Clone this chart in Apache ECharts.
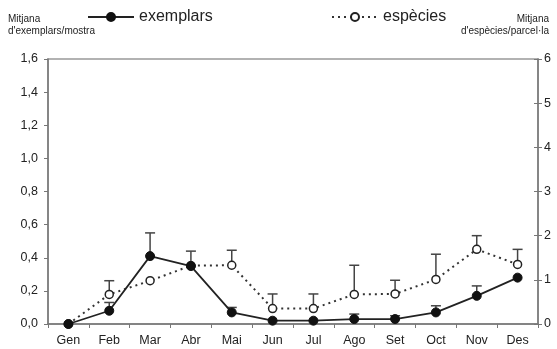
<!DOCTYPE html>
<html><head><meta charset="utf-8">
<script src="https://cdn.jsdelivr.net/npm/echarts@6/dist/echarts.min.js"></script>
<style>html,body{margin:0;padding:0;background:#fff}#c{width:557px;height:349px}</style>
</head><body><div id="c"></div>
<script>
const months = ['Gen','Feb','Mar','Abr','Mai','Jun','Jul','Ago','Set','Oct','Nov','Des'];
const exemplars = [0, 0.08, 0.41, 0.35, 0.07, 0.02, 0.02, 0.03, 0.03, 0.07, 0.17, 0.28];
const exemplarsErr = [null, 0.13, 0.55, null, 0.10, null, null, 0.06, 0.05, 0.11, 0.23, null];
const especies = [0, 0.67, 0.98, 1.32, 1.33, 0.35, 0.35, 0.67, 0.68, 1.01, 1.69, 1.35];
const especiesErr = [null, 0.98, null, 1.65, 1.67, 0.68, 0.68, 1.33, 0.99, 1.58, 2.0, 1.69];
const leftTicks = ['0,0','0,2','0,4','0,6','0,8','1,0','1,2','1,4','1,6'];

const font = 'Liberation Sans, Arial, sans-serif';
const ink = '#222';
const axisCol = '#777';

function errData(vals, tops) {
  const out = [];
  vals.forEach((v, i) => { if (tops[i] != null) out.push([i, v, tops[i]]); });
  return out;
}
function errRender(params, api) {
  const x = api.value(0);
  const p0 = api.coord([x, api.value(1)]);
  const p1 = api.coord([x, api.value(2)]);
  const half = 5;
  return {
    type: 'group',
    children: [
      {type: 'line', shape: {x1: p0[0], y1: p0[1], x2: p1[0], y2: p1[1]}, style: {stroke: '#444', lineWidth: 1.5}},
      {type: 'line', shape: {x1: p1[0] - half, y1: p1[1], x2: p1[0] + half, y2: p1[1]}, style: {stroke: '#444', lineWidth: 1.5}}
    ]
  };
}

const chart = echarts.init(document.getElementById('c'), null, {renderer: 'canvas'});
chart.setOption({
  animation: false,
  textStyle: {fontFamily: font},
  grid: {left: 48, right: 19, top: 59, bottom: 25, containLabel: false,
         show: true, borderColor: '#999', borderWidth: 1.5, backgroundColor: 'transparent'},
  legend: [
    {data: ['exemplars'], left: 82, top: 4, itemWidth: 46, itemHeight: 10,
     textStyle: {fontSize: 16, color: ink, fontFamily: font}},
    {data: ['espècies'], left: 326, top: 4, itemWidth: 46, itemHeight: 10,
     textStyle: {fontSize: 16, color: ink, fontFamily: font}}
  ],
  graphic: [
    {type: 'text', x: 8, y: 13, style: {text: 'Mitjana\nd\'exemplars/mostra', fontSize: 10, lineHeight: 12, fill: ink, fontFamily: font}},
    {type: 'text', x: 549, y: 13, style: {text: 'Mitjana\nd\'espècies/parcel·la', fontSize: 10, lineHeight: 12, fill: ink, fontFamily: font, align: 'right'}}
  ],
  xAxis: {
    type: 'category', data: months, boundaryGap: true,
    axisLine: {lineStyle: {color: axisCol, width: 1.5}},
    axisTick: {show: true, length: 4, lineStyle: {color: axisCol}},
    axisLabel: {color: ink, fontSize: 12.5, margin: 10, fontFamily: font}
  },
  yAxis: [
    {type: 'value', min: 0, max: 1.6, interval: 0.2, position: 'left',
     axisLine: {show: true, lineStyle: {color: axisCol, width: 1.5}},
     axisTick: {show: true, length: 4, lineStyle: {color: axisCol}},
     splitLine: {show: false},
     axisLabel: {color: ink, fontSize: 12.5, margin: 10, fontFamily: font,
       formatter: (v) => leftTicks[Math.round(v / 0.2)]}},
    {type: 'value', min: 0, max: 6, interval: 1, position: 'right',
     axisLine: {show: true, lineStyle: {color: axisCol, width: 1.5}},
     axisTick: {show: true, length: 4, inside: false, lineStyle: {color: axisCol}},
     splitLine: {show: false},
     axisLabel: {color: ink, fontSize: 12.5, margin: 6, fontFamily: font}},
    {type: 'value', min: 0, max: 6, interval: 1, position: 'right',
     axisLine: {show: false},
     axisTick: {show: true, length: 4, inside: true, lineStyle: {color: axisCol}},
     splitLine: {show: false},
     axisLabel: {show: false}}
  ],
  series: [
    {type: 'custom', name: 'errEx', yAxisIndex: 0, renderItem: errRender, data: errData(exemplars, exemplarsErr), z: 1, encode: {x: 0, y: [1, 2]}},
    {type: 'custom', name: 'errEs', yAxisIndex: 1, renderItem: errRender, data: errData(especies, especiesErr), z: 1, encode: {x: 0, y: [1, 2]}},
    {name: 'espècies', type: 'line', yAxisIndex: 1, data: especies,
     symbol: 'circle', symbolSize: 8, showSymbol: true,
     lineStyle: {color: '#333', width: 2, type: [2, 4]},
     itemStyle: {color: '#fff', borderColor: '#222', borderWidth: 1.5}, z: 3},
    {name: 'exemplars', type: 'line', yAxisIndex: 0, data: exemplars,
     symbol: 'circle', symbolSize: 9, showSymbol: true,
     lineStyle: {color: '#222', width: 1.8},
     itemStyle: {color: '#111', borderColor: '#111', borderWidth: 1}, z: 4}
  ]
});
</script></body></html>
